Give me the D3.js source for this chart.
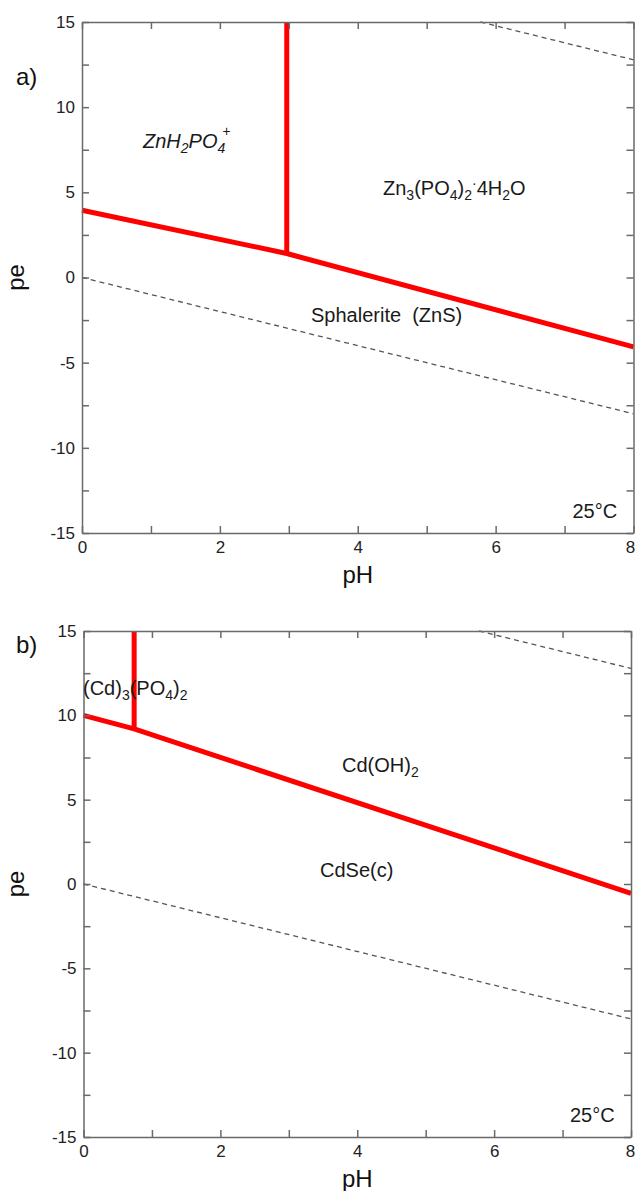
<!DOCTYPE html>
<html>
<head>
<meta charset="utf-8">
<script src="https://cdn.jsdelivr.net/npm/d3@7"></script>
<style>
  html, body { margin: 0; padding: 0; background: #fff; }
  svg text { font-family: "Liberation Sans", Arial, sans-serif; }
</style>
</head>
<body>
<svg id="chart" width="637" height="1191"></svg>
<script>
// ---------- data ----------
const xDomain = [0, 8];
const yDomain = [-15, 15];
const xTickValues = [0, 1, 2, 3, 4, 5, 6, 7, 8];
const xTickLabels = [0, 2, 4, 6, 8];
const yTickValues = [-15, -12.5, -10, -7.5, -5, -2.5, 0, 2.5, 5, 7.5, 10, 12.5, 15];
const yTickLabels = [-15, -10, -5, 0, 5, 10, 15];

// water stability limits (dashed)
const waterLowerPH = [0, 8];
const waterLowerPE = [0, -8];
const waterUpperPH = [5.78, 8];
const waterUpperPE = [15, 12.78];

// panel a) boundaries
const aSlopedPH = [0, 2.97, 8];
const aSlopedPE = [3.95, 1.41, -4.07];
const aVerticalPH = [2.97, 2.97];
const aVerticalPE = [1.41, 15];

// panel b) boundaries
const bSlopedPH = [0, 0.74, 8];
const bSlopedPE = [10, 9.2, -0.55];
const bVerticalPH = [0.74, 0.74];
const bVerticalPE = [9.2, 15];

const svg = d3.select("#chart");

function zip(xs, ys) { return xs.map((x, i) => [x, ys[i]]); }

function drawPanel(p) {
  const x = d3.scaleLinear().domain(xDomain).range([p.left, p.right]);
  const y = d3.scaleLinear().domain(yDomain).range([p.bottom, p.top]);
  const g = svg.append("g");
  const line = d3.line().x(d => x(d[0])).y(d => y(d[1]));

  // dashed water lines
  [zip(waterLowerPH, waterLowerPE), zip(waterUpperPH, waterUpperPE)].forEach(d => {
    g.append("path").attr("d", line(d)).attr("fill", "none")
      .attr("stroke", "#555").attr("stroke-width", 1.3).attr("stroke-dasharray", "5,4");
  });

  // red boundaries
  [zip(p.slopedPH, p.slopedPE), zip(p.vertPH, p.vertPE)].forEach(d => {
    g.append("path").attr("d", line(d)).attr("fill", "none")
      .attr("stroke", "#f00").attr("stroke-width", 5).attr("stroke-linejoin", "round");
  });

  // axes
  const fmtX = d => xTickLabels.includes(d) ? d : "";
  const fmtY = d => yTickLabels.includes(d) ? d : "";
  const axes = [
    g.append("g").attr("transform", `translate(0,${p.bottom})`)
      .call(d3.axisBottom(x).tickValues(xTickValues).tickSize(-7).tickSizeOuter(0).tickPadding(8).tickFormat(fmtX)),
    g.append("g").attr("transform", `translate(0,${p.top})`)
      .call(d3.axisTop(x).tickValues(xTickValues).tickSize(-7).tickSizeOuter(0).tickFormat("")),
    g.append("g").attr("transform", `translate(${p.left},0)`)
      .call(d3.axisLeft(y).tickValues(yTickValues).tickSize(-7).tickSizeOuter(0).tickPadding(7).tickFormat(fmtY)),
    g.append("g").attr("transform", `translate(${p.right},0)`)
      .call(d3.axisRight(y).tickValues(yTickValues).tickSize(-7).tickSizeOuter(0).tickFormat(""))
  ];
  axes.forEach(a => {
    a.selectAll("path, line").attr("stroke", "#6a6a6a").attr("stroke-width", 1.5);
    a.selectAll("text").attr("fill", "#222").style("font-size", "17px");
  });
  // keep the last x label inside the page
  axes[0].selectAll(".tick text").filter(d => d === xDomain[1])
    .attr("dx", Math.min(0, 630 - p.right));

  // axis titles
  g.append("text").attr("x", (p.left + p.right) / 2).attr("y", p.bottom + 50)
    .attr("text-anchor", "middle").style("font-size", "24px").attr("fill", "#111").text("pH");
  g.append("text").attr("transform", `translate(24,${(p.top + p.bottom) / 2}) rotate(-90)`)
    .attr("text-anchor", "middle").style("font-size", "24px").attr("fill", "#111").text("pe");

  // panel letter
  g.append("text").attr("x", 16).attr("y", p.letterY).style("font-size", "24px").attr("fill", "#111").text(p.letter);

  // temperature
  g.append("text").attr("x", p.right - 61).attr("y", p.bottom - 15)
    .style("font-size", "20px").attr("fill", "#1a1a1a").text("25°C");

  return { g, x, y };
}

function label(g, x, y, parts, opts = {}) {
  const t = g.append("text").attr("x", x).attr("y", y).style("font-size", "20px")
    .attr("fill", "#1a1a1a").attr("xml:space", "preserve");
  if (opts.italic) t.style("font-style", "italic");
  parts.forEach(pt => {
    const s = t.append("tspan").text(pt.t);
    if (pt.sub) s.style("font-size", "14px").attr("dy", 5);
    if (pt.sup) s.style("font-size", "14px").attr("dy", pt.dy);
    if (pt.up) s.attr("dy", pt.up);
    if (pt.dx) s.attr("dx", pt.dx);
  });
  return t;
}

// ---------- panel a ----------
const A = drawPanel({ left: 82, right: 633.5, top: 22, bottom: 533, letter: "a)", letterY: 85,
  slopedPH: aSlopedPH, slopedPE: aSlopedPE, vertPH: aVerticalPH, vertPE: aVerticalPE });

label(A.g, 143, 148, [{ t: "ZnH" }, { t: "2", sub: true }, { t: "PO", up: -5 }, { t: "4", sub: true },
  { t: "+", sup: true, dy: -17, dx: -3 }], { italic: true });
label(A.g, 383, 195, [{ t: "Zn" }, { t: "3", sub: true }, { t: "(PO", up: -5 }, { t: "4", sub: true },
  { t: ")", up: -5 }, { t: "2", sub: true }, { t: "·", sup: true, dy: -12 }, { t: "4H", up: 7 }, { t: "2", sub: true }, { t: "O", up: -5 }]);
label(A.g, 311, 322, [{ t: "Sphalerite  (ZnS)" }]);

// ---------- panel b ----------
const B = drawPanel({ left: 83.5, right: 631, top: 631, bottom: 1137, letter: "b)", letterY: 653,
  slopedPH: bSlopedPH, slopedPE: bSlopedPE, vertPH: bVerticalPH, vertPE: bVerticalPE });

label(B.g, 83, 695, [{ t: "(Cd)" }, { t: "3", sub: true }, { t: "(PO", up: -5 }, { t: "4", sub: true },
  { t: ")", up: -5 }, { t: "2", sub: true }]);
label(B.g, 342, 772, [{ t: "Cd(OH)" }, { t: "2", sub: true }]);
label(B.g, 320, 877, [{ t: "CdSe(c)" }]);
</script>
</body>
</html>
